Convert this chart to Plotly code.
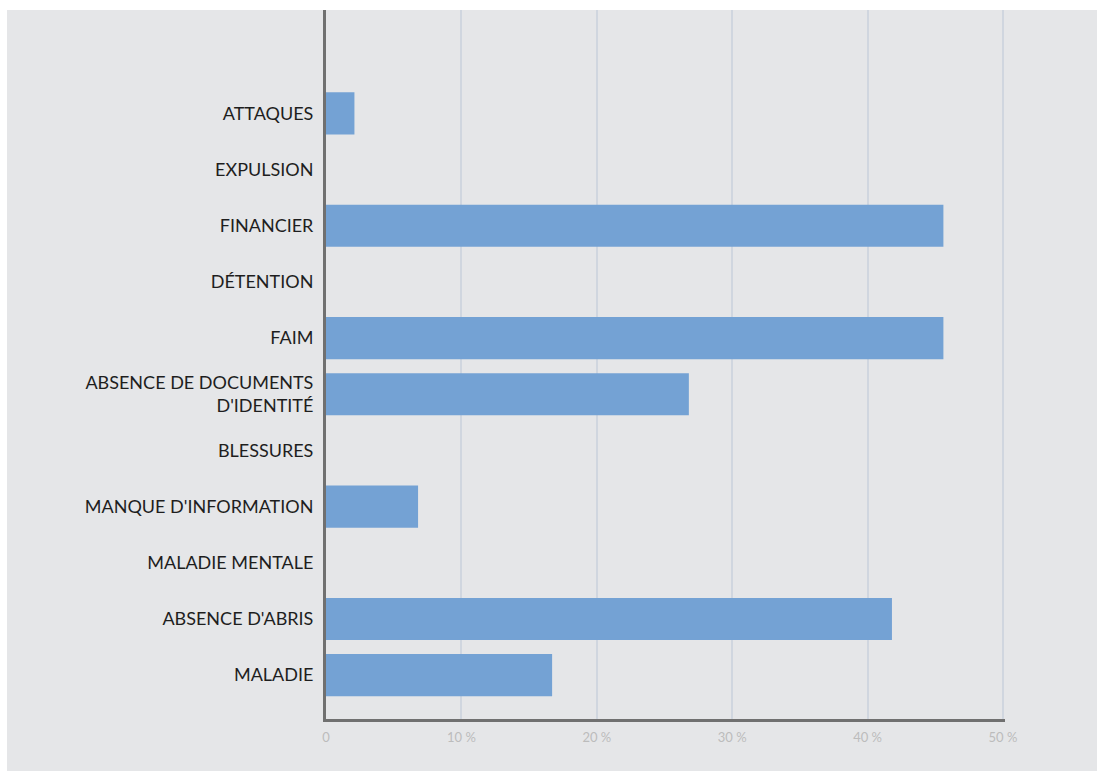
import plotly.graph_objects as go

# Difficulties reported, top to bottom as displayed
categories = [
    "ATTAQUES",
    "EXPULSION",
    "FINANCIER",
    "DÉTENTION",
    "FAIM",
    "ABSENCE DE DOCUMENTS<br>D'IDENTITÉ",
    "BLESSURES",
    "MANQUE D'INFORMATION",
    "MALADIE MENTALE",
    "ABSENCE D'ABRIS",
    "MALADIE",
]
values = [2.1, 0, 45.6, 0, 45.6, 26.8, 0, 6.8, 0, 41.8, 16.7]

tick_vals = [0, 10, 20, 30, 40, 50]
tick_text = ["0", "10 %", "20 %", "30 %", "40 %", "50 %"]

W, H = 1100, 771
L, R, T, B = 326, 95, 10, 52
pw, ph = W - L - R, H - T - B

def px_x(x):
    return (x - L) / pw

def px_y(y):
    return (H - B - y) / ph

fig = go.Figure(
    go.Bar(
        x=values[::-1],
        y=categories[::-1],
        orientation="h",
        marker=dict(color="#74a2d4", line=dict(width=0)),
        hoverinfo="x+y",
    )
)

fig.add_shape(
    type="rect", xref="paper", yref="paper",
    x0=px_x(7), x1=px_x(1097), y0=px_y(771), y1=px_y(10),
    fillcolor="#e5e6e8", line=dict(width=0), layer="below",
)

fig.update_layout(
    width=W, height=H,
    margin=dict(l=L, r=R, t=T, b=B),
    paper_bgcolor="white",
    plot_bgcolor="rgba(0,0,0,0)",
    bargap=0.25,
    showlegend=False,
    font=dict(family="Lato, sans-serif", color="#222222"),
)

fig.update_xaxes(
    range=[0, 50.15],
    tickvals=tick_vals, ticktext=tick_text,
    tickfont=dict(size=13, color="#bcbcbc", family="Liberation Sans Narrow, Lato, sans-serif"),
    showgrid=True, gridcolor="#d0d6df", gridwidth=2,
    zeroline=False,
    showline=True, linecolor="#707070", linewidth=3,
    ticks="", ticklabelstandoff=4,
)

fig.update_yaxes(
    type="category",
    categoryorder="array", categoryarray=categories[::-1],
    range=[-0.78, 11.84],
    tickfont=dict(size=18, color="#1e1e1e", family="Lato, sans-serif"),
    showgrid=False, zeroline=False,
    showline=True, linecolor="#707070", linewidth=3,
    ticks="", ticklabelstandoff=6,
)

fig.write_html("out.html")
